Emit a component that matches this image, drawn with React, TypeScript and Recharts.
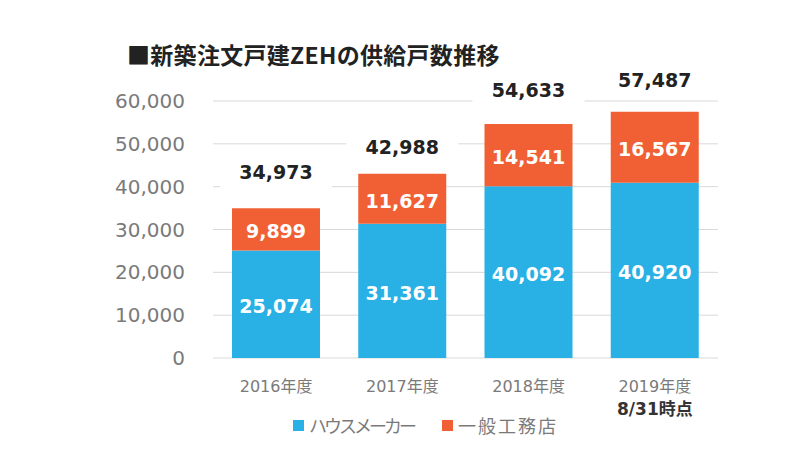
import React from 'react';
import { BarChart, Bar, XAxis, YAxis, CartesianGrid, LabelList, Legend } from 'recharts';

const categories = ['2016年度', '2017年度', '2018年度', '2019年度'];
const subLabels = ['', '', '', '8/31時点'];
const houseMakers = [25074, 31361, 40092, 40920];
const localBuilders = [9899, 11627, 14541, 16567];
const totals = [34973, 42988, 54633, 57487];
const yTicks = [0, 10000, 20000, 30000, 40000, 50000, 60000];
const seriesNames = ['ハウスメーカー', '一般工務店'];
const title = '■新築注文戸建ZEHの供給戸数推移';

const BLUE = '#29b0e5';
const ORANGE = '#f16034';
const NUM_FONT = "'DejaVu Sans', 'Noto Sans CJK JP', sans-serif";
const JP_FONT = "'Noto Sans CJK JP', sans-serif";

const data = categories.map((c, i) => ({
  name: c,
  sub: subLabels[i],
  house: houseMakers[i],
  local: localBuilders[i],
  total: totals[i],
}));

const totalLabelLift = [36, 27, 34, 32];

const fmt = (v: number) => Number(v).toLocaleString('en-US');

const XTick = (props: any) => {
  const { x, y, payload, index } = props;
  const sub = subLabels[index];
  return (
    <g>
      <text x={x} y={y + 22} textAnchor="middle" dominantBaseline="central" fontSize={16} fill="#7a7a7a" fontFamily={NUM_FONT}>
        {payload.value}
      </text>
      {sub ? (
        <text x={x} y={y + 45} textAnchor="middle" dominantBaseline="central" fontSize={17} fontWeight="bold" fill="#333" fontFamily={NUM_FONT}>
          {sub}
        </text>
      ) : null}
    </g>
  );
};

const InnerLabel = (props: any) => {
  const { x, y, width, height, value } = props;
  return (
    <text x={x + width / 2} y={y + height / 2 + 2} textAnchor="middle" dominantBaseline="central" fontSize={19} fontWeight="bold" fill="#ffffff" fontFamily={NUM_FONT}>
      {fmt(value)}
    </text>
  );
};

const TotalLabel = (props: any) => {
  const { x, y, width, value, index } = props;
  const cx = x + width / 2;
  const cy = y - totalLabelLift[index];
  return (
    <g>
      <rect x={cx - 56} y={cy - 16} width={112} height={32} fill="#ffffff" />
      <text x={cx} y={cy} textAnchor="middle" dominantBaseline="central" fontSize={19} fontWeight="bold" fill="#222" fontFamily={NUM_FONT}>
        {fmt(value)}
      </text>
    </g>
  );
};

const LegendContent = () => {
  const items = [
    { name: seriesNames[0], color: BLUE, spacing: -3 },
    { name: seriesNames[1], color: ORANGE, spacing: 2 },
  ];
  return (
    <div style={{ display: 'flex', alignItems: 'center', paddingLeft: 293, fontFamily: JP_FONT, color: '#7a7a7a', fontSize: 18, lineHeight: '24px' }}>
      {items.map((it, i) => (
        <div key={it.name} style={{ display: 'flex', alignItems: 'center', marginRight: i === 0 ? 28 : 0 }}>
          <span style={{ display: 'inline-block', width: 11, height: 11, background: it.color, marginRight: 5 }} />
          <span style={{ letterSpacing: it.spacing, whiteSpace: 'nowrap' }}>{it.name}</span>
        </div>
      ))}
    </div>
  );
};

export default function App() {
  return (
    <div style={{ position: 'absolute', left: 0, top: 0, width: 800, height: 462, background: '#fff' }}>
      <div style={{ position: 'absolute', left: 127, top: 40, fontFamily: JP_FONT, fontWeight: 'bold', fontSize: 23, letterSpacing: 0.3, lineHeight: '28px', color: '#222', whiteSpace: 'nowrap' }}>
        {title}
      </div>
      <BarChart width={800} height={462} data={data} margin={{ top: 101, right: 82, left: 133, bottom: 74 }}>
        <CartesianGrid vertical={false} stroke="#d9d9d9" />
        <XAxis dataKey="name" axisLine={false} tickLine={false} tick={<XTick />} tickMargin={0} interval={0} />
        <YAxis
          domain={[0, 60000]}
          ticks={yTicks}
          width={80}
          axisLine={false}
          tickLine={false}
          tickMargin={22}
          tickFormatter={fmt}
          tick={{ fontSize: 20, fill: '#7a7a7a', fontFamily: NUM_FONT }}
        />
        <Legend layout="horizontal" verticalAlign="middle" align="center" content={<LegendContent />} wrapperStyle={{ top: 413, left: 0, width: 800 }} />
        <Bar dataKey="house" name={seriesNames[0]} stackId="a" fill={BLUE} barSize={88} isAnimationActive={false}>
          <LabelList dataKey="house" content={<InnerLabel />} />
        </Bar>
        <Bar dataKey="local" name={seriesNames[1]} stackId="a" fill={ORANGE} barSize={88} isAnimationActive={false}>
          <LabelList dataKey="local" content={<InnerLabel />} />
          <LabelList dataKey="total" content={<TotalLabel />} />
        </Bar>
      </BarChart>
    </div>
  );
}
